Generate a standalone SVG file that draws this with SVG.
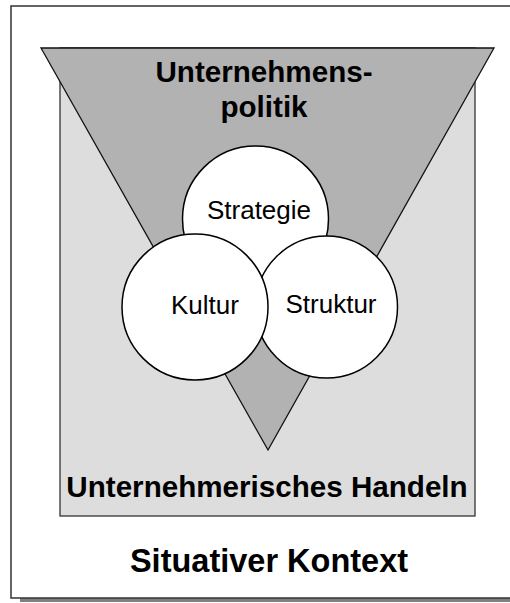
<svg xmlns="http://www.w3.org/2000/svg" width="510" height="603" viewBox="0 0 510 603">
  <style>
    .frame { fill: #ffffff; stroke: #333333; stroke-width: 1.5; }
    .shadow { fill: #808080; }
    .context { fill: #dddddd; stroke: #333333; stroke-width: 1.3; }
    .policy { fill: #b2b2b2; stroke: #111111; stroke-width: 1.3; stroke-linejoin: miter; }
    .circle { fill: #ffffff; stroke: #000000; stroke-width: 1.5; }
    .bold { font-family: "Liberation Sans", Arial, sans-serif; font-weight: bold; fill: #000000; text-anchor: middle; }
    .label { font-family: "Liberation Sans", Arial, sans-serif; font-size: 26px; fill: #000000; text-anchor: middle; }
  </style>

  <!-- outer frame with drop shadow -->
  <g id="frame">
    <rect class="shadow" x="20" y="598" width="500" height="4"/>
    <rect class="frame" x="11" y="6" width="510" height="592"/>
    <text class="bold" x="269" y="572" font-size="32.5">Situativer Kontext</text>
  </g>

  <!-- entrepreneurial action area -->
  <g id="handeln">
    <rect class="context" x="60" y="48" width="415" height="468"/>
    <text class="bold" x="267" y="497" font-size="29.6">Unternehmerisches Handeln</text>
  </g>

  <!-- corporate policy funnel -->
  <g id="politik">
    <polygon class="policy" points="41,48 494,48 268,450"/>
    <text class="bold" x="264" y="82" font-size="29.6">Unternehmens-</text>
    <text class="bold" x="264" y="117" font-size="29.6">politik</text>
  </g>

  <g id="strategie">
    <circle class="circle" cx="255.5" cy="219" r="73"/>
    <text class="label" x="259" y="219">Strategie</text>
  </g>

  <g id="struktur">
    <circle class="circle" cx="326.5" cy="307" r="71"/>
    <text class="label" x="331" y="313">Struktur</text>
  </g>

  <g id="kultur">
    <circle class="circle" cx="195" cy="307" r="73"/>
    <text class="label" x="205" y="314">Kultur</text>
  </g>

  <g id="connectors"/>
</svg>
